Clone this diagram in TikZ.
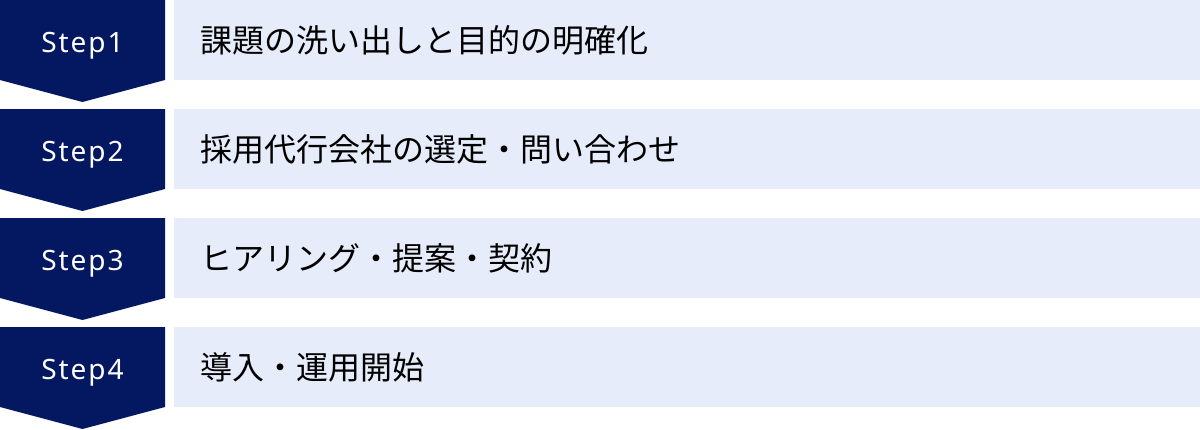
\documentclass[tikz,border=0pt]{standalone}
\usepackage{fontspec}
\newfontfamily\jpfont{Noto Sans CJK JP}
\newfontfamily\stepfont[LetterSpace=7]{Noto Sans}
\definecolor{stepnavy}{RGB}{4,24,97}
\definecolor{taskblue}{RGB}{230,236,249}
\tikzset{
	steplabel/.style={text=white,font=\stepfont\fontsize{28}{32}\selectfont,anchor=base,inner sep=0pt},
	tasklabel/.style={text=black,font=\jpfont\fontsize{32}{36}\selectfont,anchor=west,inner sep=0pt}
}
\begin{document}
\begin{tikzpicture}[x=1pt,y=-1pt,
		stepflag/.pic={\fill[stepnavy] (0,0) -- (165,0) -- (165,80) -- (82.5,102) -- (0,80) -- cycle;}
	]
	\useasboundingbox (0,0) rectangle (1200,429);
	\foreach \n/\txt in {1/課題の洗い出しと目的の明確化,2/採用代行会社の選定・問い合わせ,3/ヒアリング・提案・契約,4/導入・運用開始}{
		\pgfmathsetmacro{\y}{(\n-1)*109}
		\pic at (0,\y) {stepflag};
		\fill[taskblue] (174,\y) rectangle (1200,\y+80);
		\node[steplabel] (step\n) at (82.5,\y+52) {Step\n};
		\node[tasklabel] (task\n) at (200,\y+40) {\txt};
	}
\end{tikzpicture}
\end{document}
